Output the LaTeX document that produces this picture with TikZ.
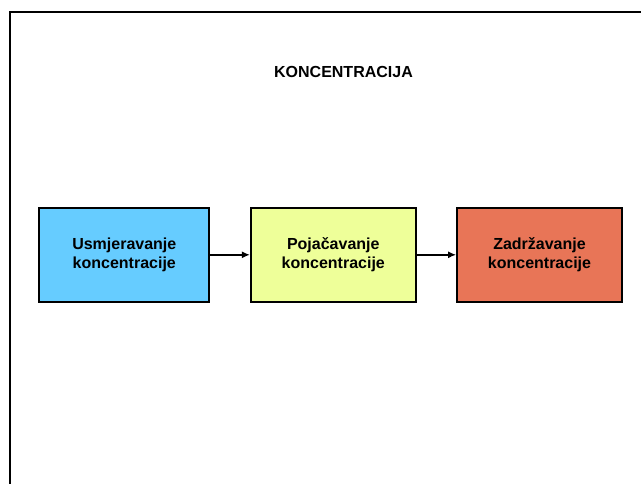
\documentclass[tikz,border=0pt]{standalone}
\usepackage{fontspec}
\setmainfont{Liberation Sans}
\usetikzlibrary{arrows.meta}
\definecolor{boxblue}{RGB}{102,204,255}
\definecolor{boxyellow}{RGB}{238,255,153}
\definecolor{boxred}{RGB}{232,117,87}
\begin{document}
\begin{tikzpicture}[x=1pt,y=-1pt,
  stage/.style={draw=black, line width=1.8pt, rectangle, minimum height=94pt, align=center,
    font=\fontsize{16}{19.5}\selectfont\bfseries, inner sep=0pt},
  conn/.style={line width=1.5pt, -{Latex[length=8pt,width=7pt]}}]
\useasboundingbox (0,0) rectangle (641,484);
\draw[line width=2pt] (10,484) -- (10,12) -- (641,12);
\node[font=\fontsize{16}{19}\selectfont\bfseries] (title) at (343.5,71.5) {KONCENTRACIJA};
\node[stage, fill=boxblue, minimum width=170pt] (a) at (124.3,254.8) {Usmjeravanje\\koncentracije};
\node[stage, fill=boxyellow, minimum width=165pt] (b) at (333.3,254.8) {Pojačavanje\\koncentracije};
\node[stage, fill=boxred, minimum width=165pt] (c) at (539.5,254.8) {Zadržavanje\\koncentracije};
\draw[conn] (a) -- (b);
\draw[conn] (b) -- (c);
\end{tikzpicture}
\end{document}
